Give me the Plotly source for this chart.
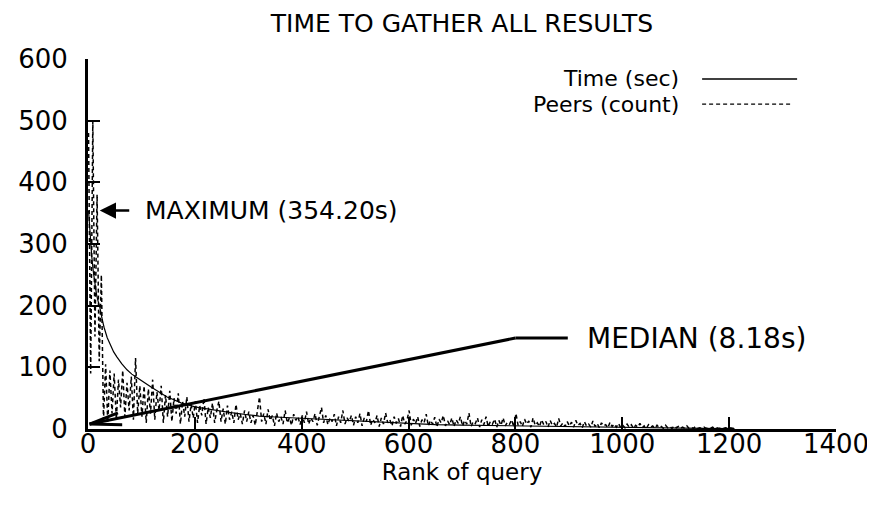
import plotly.graph_objects as go

# ---------------- data ----------------
time_rank = [1, 2, 3, 5, 7, 10, 13, 16, 19, 22, 26, 30, 36, 43, 48, 54, 63, 73, 82, 92,
             105, 118, 133, 148, 162, 175, 188, 200, 220, 240, 255, 272, 295, 320, 350,
             400, 450, 500, 550, 605, 650, 700, 750, 800, 850, 900, 950, 1000, 1050,
             1100, 1150, 1210]
time_sec = [354.2, 340, 325, 300, 280, 255, 235, 218, 207, 198, 180, 165, 148, 133, 125,
            117, 106, 96, 89, 83, 75, 68, 60, 52, 47, 42, 39, 36, 33, 30, 28, 26, 23.5,
            21, 19.5, 17.5, 15, 12.5, 10.3, 8.18, 7.2, 6.3, 5.6, 5, 4.4, 3.8, 3.2, 2.7,
            2.2, 1.6, 1.1, 0.5]

peers_rank = list(range(1, 1210, 4))
peers_count = [
    480, 90, 500, 150, 380, 110, 250, 15, 105, 10, 95, 25, 90, 15, 80, 35, 95, 20, 75, 30, 85, 15, 115, 25, 70,
    20, 70, 10, 65, 25, 80, 15, 60, 30, 70, 10, 55, 20, 62, 12, 50, 25, 58, 8, 45, 20, 52, 12, 40, 18,
    45, 10, 38, 22, 50, 8, 35, 18, 42, 10, 30, 45, 12, 33, 8, 38, 15, 28, 10, 40, 15, 25, 8, 30, 12,
    28, 10, 22, 6, 30, 52, 12, 25, 8, 32, 14, 22, 5, 26, 12, 20, 8, 30, 10, 18, 6, 24, 14, 20, 7,
    22, 10, 28, 8, 18, 12, 25, 6, 20, 35, 10, 22, 7, 18, 12, 24, 5, 20, 10, 30, 8, 18, 12, 22, 6,
    20, 10, 25, 5, 18, 12, 30, 6, 16, 10, 22, 4, 18, 8, 26, 10, 15, 5, 20, 9, 17, 4, 22, 8, 14,
    30, 6, 16, 9, 20, 4, 15, 10, 24, 5, 14, 8, 19, 3, 16, 10, 22, 5, 13, 7, 18, 4, 15, 9, 20,
    5, 14, 8, 26, 4, 12, 9, 18, 3, 15, 7, 20, 4, 12, 8, 16, 3, 14, 6, 18, 5, 11, 8, 15, 3,
    25, 6, 12, 4, 16, 8, 13, 3, 18, 6, 10, 4, 15, 7, 12, 3, 14, 6, 9, 3, 17, 5, 10, 4, 12,
    5, 11, 3, 14, 6, 9, 2, 12, 5, 8, 3, 13, 4, 9, 2, 10, 5, 7, 2, 11, 4, 8, 3, 9, 2,
    6, 2, 8, 3, 7, 1, 6, 3, 9, 2, 5, 1, 7, 3, 5, 1, 6, 2, 4, 1, 6, 2, 4, 1, 5,
    2, 4, 1, 3, 1, 5, 1, 3, 1, 4, 1, 2, 1, 3, 1, 2, 1, 3, 1, 2, 1, 2, 1, 2, 1,
    2, 1, 1,
]

x_ticks = [0, 200, 400, 600, 800, 1000, 1200, 1400]
y_ticks = [0, 100, 200, 300, 400, 500, 600]

title_text = "TIME TO GATHER ALL RESULTS"
x_title = "Rank of query"
series_names = ["Time (sec)", "Peers (count)"]
max_label = "MAXIMUM (354.20s)"
median_label = "MEDIAN (8.18s)"
max_value = 354.2
median_anchor = (800, 147.5)
median_tip = (3, 8)

FONT = "DejaVu Sans, Liberation Sans, Arial, sans-serif"
BLK = "black"

fig = go.Figure()
fig.add_trace(go.Scatter(x=peers_rank, y=peers_count, mode="lines", name=series_names[1],
                         line=dict(color=BLK, width=1.5, dash="4px,3px")))
fig.add_trace(go.Scatter(x=time_rank, y=time_sec, mode="lines", name=series_names[0],
                         line=dict(color=BLK, width=1.2)))

# legend drawn gnuplot-style (text on left, sample on right)
leg_y = [0.946, 0.878]
for name, yy, dash, x1 in [(series_names[0], leg_y[0], "solid", 0.948),
                           (series_names[1], leg_y[1], "4px,3px", 0.939)]:
    fig.add_annotation(xref="paper", yref="paper", x=0.793, y=yy, text=name,
                       showarrow=False, xanchor="right", yanchor="middle",
                       font=dict(family=FONT, size=22, color=BLK))
    fig.add_shape(type="line", xref="paper", yref="paper", x0=0.821, x1=x1, y0=yy, y1=yy,
                  line=dict(color=BLK, width=1.3, dash=dash))

# MAXIMUM annotation
fig.add_annotation(x=22, y=max_value, ax=80, ay=max_value, axref="x", ayref="y",
                   text="", showarrow=True, arrowhead=2, arrowsize=1.3, arrowwidth=2.5,
                   arrowcolor=BLK, standoff=0, startstandoff=0)
fig.add_annotation(x=103, y=max_value, text=max_label, showarrow=False, xanchor="left",
                   yanchor="middle", font=dict(family=FONT, size=25, color=BLK))

# MEDIAN annotation: leader line with open arrowhead
fig.add_shape(type="line", xref="x", yref="y", x0=median_anchor[0], y0=median_anchor[1],
              x1=median_tip[0], y1=median_tip[1], line=dict(color=BLK, width=3))
fig.add_shape(type="line", xref="x", yref="y", x0=median_tip[0], y0=median_tip[1],
              x1=64, y1=7, line=dict(color=BLK, width=3))
fig.add_shape(type="line", xref="x", yref="y", x0=median_tip[0], y0=median_tip[1],
              x1=56, y1=26, line=dict(color=BLK, width=3))
fig.add_shape(type="line", xref="x", yref="y", x0=median_anchor[0], x1=898,
              y0=median_anchor[1], y1=median_anchor[1], line=dict(color=BLK, width=3))
fig.add_annotation(x=930, y=median_anchor[1], text=median_label, showarrow=False, xanchor="left",
                   yanchor="middle", font=dict(family=FONT, size=28, color=BLK))

# page body has an 8px default margin: figure is sized so the plot area lands
# where the reference has it (x 88..836, y 59..429 on the page)
fig.update_layout(
    width=867, height=501,
    margin=dict(l=80, r=39, t=51, b=80, autoexpand=False),
    paper_bgcolor="white", plot_bgcolor="white",
    showlegend=False,
    font=dict(family=FONT, size=26, color=BLK),
    title=dict(text=title_text, xref="paper", x=0.5, xanchor="center",
               yref="container", y=0.97, yanchor="middle",
               font=dict(family=FONT, size=25, color=BLK)),
)
fig.update_xaxes(range=[0, 1400], tickvals=x_ticks, ticktext=[str(v) for v in x_ticks],
                 showline=True, linecolor=BLK, linewidth=3, mirror=False,
                 ticks="inside", ticklen=12, tickwidth=2, tickcolor=BLK,
                 showgrid=False, zeroline=False, automargin=False,
                 ticklabelstandoff=-10,
                 title=dict(text=x_title, standoff=2, font=dict(family=FONT, size=23)),
                 tickfont=dict(family=FONT, size=26))
fig.update_yaxes(range=[0, 600], tickvals=y_ticks, ticktext=[str(v) for v in y_ticks],
                 showline=True, linecolor=BLK, linewidth=3, mirror=False,
                 ticks="inside", ticklen=12, tickwidth=2, tickcolor=BLK,
                 showgrid=False, zeroline=False, automargin=False,
                 ticklabelstandoff=12,
                 tickfont=dict(family=FONT, size=26))

fig.write_html("out.html")
